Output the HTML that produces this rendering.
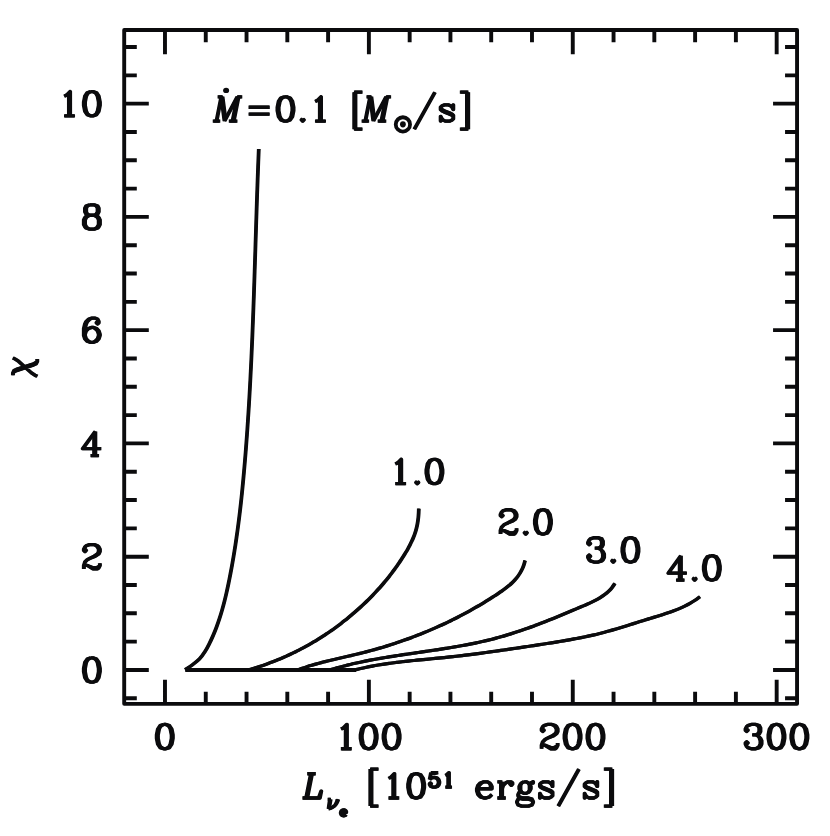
<!DOCTYPE html>
<html><head><meta charset="utf-8"><title>chi vs L</title>
<style>html,body{margin:0;padding:0;overflow:hidden;width:830px;height:836px;background:#fff;font-family:"Liberation Sans",sans-serif;}svg{display:block}</style>
</head><body>
<svg width="830" height="836" viewBox="0 0 830 836">
<rect width="830" height="836" fill="#fff"/>
<rect x="124.2" y="29.95" width="672.86" height="673.92" fill="none" stroke="#0b0b0d" stroke-linejoin="round" stroke-width="3.9"/>
<path d="M164.98 29.95V54.35M164.98 703.87V679.87M205.76 29.95V42.35M205.76 703.87V691.87M246.54 29.95V42.35M246.54 703.87V691.87M287.32 29.95V42.35M287.32 703.87V691.87M328.1 29.95V42.35M328.1 703.87V691.87M368.88 29.95V54.35M368.88 703.87V679.87M409.66 29.95V42.35M409.66 703.87V691.87M450.44 29.95V42.35M450.44 703.87V691.87M491.21 29.95V42.35M491.21 703.87V691.87M531.99 29.95V42.35M531.99 703.87V691.87M572.77 29.95V54.35M572.77 703.87V679.87M613.55 29.95V42.35M613.55 703.87V691.87M654.33 29.95V42.35M654.33 703.87V691.87M695.11 29.95V42.35M695.11 703.87V691.87M735.89 29.95V42.35M735.89 703.87V691.87M776.67 29.95V54.35M776.67 703.87V679.87M124.2 698.26H136.8M797.06 698.26H785.06M124.2 669.94H148.8M797.06 669.94H773.06M124.2 641.62H136.8M797.06 641.62H785.06M124.2 613.31H136.8M797.06 613.31H785.06M124.2 585H136.8M797.06 585H785.06M124.2 556.68H148.8M797.06 556.68H773.06M124.2 528.37H136.8M797.06 528.37H785.06M124.2 500.05H136.8M797.06 500.05H785.06M124.2 471.74H136.8M797.06 471.74H785.06M124.2 443.42H148.8M797.06 443.42H773.06M124.2 415.11H136.8M797.06 415.11H785.06M124.2 386.79H136.8M797.06 386.79H785.06M124.2 358.48H136.8M797.06 358.48H785.06M124.2 330.16H148.8M797.06 330.16H773.06M124.2 301.85H136.8M797.06 301.85H785.06M124.2 273.53H136.8M797.06 273.53H785.06M124.2 245.22H136.8M797.06 245.22H785.06M124.2 216.9H148.8M797.06 216.9H773.06M124.2 188.59H136.8M797.06 188.59H785.06M124.2 160.27H136.8M797.06 160.27H785.06M124.2 131.96H136.8M797.06 131.96H785.06M124.2 103.64H148.8M797.06 103.64H773.06M124.2 75.33H136.8M797.06 75.33H785.06M124.2 47.01H136.8M797.06 47.01H785.06" fill="none" stroke="#0b0b0d" stroke-width="3.9"/>
<path d="M185.2 669.9H356" fill="none" stroke="#0b0b0d" stroke-width="4"/>
<g transform="translate(-0.3 0)"><g id="cv">
<path d="M185.13 669.69C186.37 668.87 190.14 666.53 192.54 664.74C194.94 662.95 197.46 661.13 199.53 658.96C201.6 656.79 203.32 654.27 204.95 651.73C206.58 649.19 207.95 646.44 209.31 643.73C210.67 641.02 211.93 638.26 213.13 635.49C214.33 632.72 215.45 629.91 216.51 627.08C217.57 624.25 218.56 621.4 219.5 618.53C220.44 615.66 221.31 612.76 222.14 609.85C222.97 606.94 223.75 604.02 224.5 601.08C225.25 598.14 225.95 595.19 226.62 592.23C227.29 589.27 227.92 586.31 228.54 583.34C229.16 580.37 229.75 577.4 230.33 574.42C230.91 571.44 231.46 568.46 232 565.48C232.54 562.5 233.06 559.51 233.56 556.53C234.06 553.54 234.54 550.56 235.01 547.57C235.48 544.58 235.93 541.59 236.37 538.59C236.81 535.6 237.22 532.6 237.63 529.6C238.04 526.6 238.43 523.6 238.81 520.6C239.19 517.6 239.56 514.6 239.92 511.6C240.28 508.6 240.62 505.59 240.95 502.58C241.28 499.57 241.6 496.57 241.91 493.56C242.22 490.55 242.52 487.54 242.81 484.53C243.1 481.52 243.38 478.5 243.66 475.49C243.94 472.48 244.2 469.46 244.46 466.45C244.72 463.44 244.97 460.41 245.22 457.4C245.47 454.38 245.71 451.38 245.95 448.36C246.19 445.34 246.41 442.32 246.63 439.3C246.85 436.28 247.07 433.27 247.28 430.25C247.49 427.23 247.7 424.21 247.9 421.19C248.1 418.17 248.29 415.15 248.48 412.13C248.67 409.11 248.86 406.09 249.04 403.07C249.22 400.05 249.39 397.03 249.56 394.01C249.73 390.99 249.9 387.96 250.06 384.94C250.22 381.92 250.38 378.89 250.53 375.87C250.68 372.85 250.83 369.82 250.98 366.8C251.13 363.78 251.27 360.75 251.41 357.73C251.55 354.71 251.68 351.67 251.81 348.65C251.94 345.62 252.07 342.6 252.2 339.58C252.33 336.56 252.45 333.52 252.57 330.5C252.69 327.48 252.8 324.45 252.92 321.43C253.03 318.41 253.15 315.38 253.26 312.35C253.37 309.32 253.48 306.3 253.59 303.27C253.7 300.24 253.81 297.22 253.91 294.19C254.01 291.16 254.11 288.14 254.21 285.11C254.31 282.08 254.41 279.06 254.51 276.03C254.61 273 254.7 269.98 254.8 266.95C254.9 263.92 254.99 260.9 255.09 257.87C255.19 254.84 255.28 251.81 255.38 248.79C255.47 245.76 255.56 242.75 255.66 239.72C255.75 236.69 255.85 233.67 255.95 230.64C256.05 227.61 256.13 224.59 256.23 221.56C256.33 218.53 256.43 215.52 256.53 212.49C256.63 209.47 256.72 206.44 256.82 203.41C256.92 200.38 257.02 197.36 257.12 194.34C257.22 191.32 257.33 188.29 257.44 185.27C257.55 182.25 257.65 179.22 257.76 176.2C257.87 173.18 257.98 170.15 258.09 167.13C258.2 164.11 258.32 161.08 258.44 158.06C258.56 155.04 258.74 150.51 258.8 149" fill="none" stroke="#0b0b0d" stroke-width="3.2" stroke-linejoin="round"/>
<path d="M248.3 669.9C248.97 669.71 250.99 669.14 252.33 668.75C253.67 668.36 255.01 667.95 256.34 667.54C257.67 667.13 259 666.7 260.33 666.27C261.66 665.84 262.98 665.39 264.3 664.93C265.62 664.47 266.94 664 268.25 663.52C269.56 663.04 270.87 662.56 272.17 662.06C273.47 661.56 274.77 661.05 276.07 660.53C277.37 660.01 278.66 659.48 279.95 658.94C281.24 658.4 282.52 657.85 283.8 657.29C285.08 656.73 286.35 656.16 287.62 655.58C288.89 655 290.16 654.41 291.42 653.81C292.68 653.21 293.94 652.6 295.19 651.98C296.44 651.36 297.7 650.73 298.94 650.09C300.18 649.45 301.42 648.81 302.65 648.15C303.88 647.49 305.11 646.82 306.33 646.14C307.55 645.46 308.78 644.78 309.99 644.09C311.2 643.4 312.41 642.69 313.61 641.98C314.81 641.27 316.01 640.54 317.2 639.81C318.39 639.08 319.58 638.34 320.76 637.59C321.94 636.84 323.12 636.08 324.29 635.31C325.46 634.54 326.62 633.77 327.78 632.99C328.94 632.21 330.08 631.41 331.23 630.61C332.38 629.81 333.53 629 334.66 628.18C335.8 627.36 336.92 626.53 338.04 625.7C339.16 624.87 340.28 624.03 341.39 623.18C342.5 622.33 343.6 621.47 344.7 620.6C345.8 619.73 346.89 618.85 347.97 617.97C349.05 617.09 350.13 616.2 351.2 615.3C352.27 614.4 353.33 613.5 354.39 612.58C355.45 611.67 356.5 610.74 357.54 609.81C358.58 608.88 359.61 607.94 360.64 607C361.67 606.06 362.69 605.11 363.71 604.15C364.72 603.19 365.73 602.23 366.73 601.25C367.73 600.27 368.72 599.29 369.71 598.3C370.69 597.31 371.67 596.31 372.64 595.31C373.61 594.31 374.57 593.3 375.52 592.28C376.47 591.26 377.42 590.23 378.36 589.2C379.3 588.17 380.22 587.13 381.14 586.08C382.06 585.03 382.97 583.97 383.87 582.91C384.77 581.85 385.67 580.77 386.55 579.69C387.43 578.61 388.31 577.52 389.17 576.43C390.04 575.34 390.89 574.24 391.74 573.13C392.59 572.02 393.42 570.9 394.25 569.77C395.08 568.64 395.89 567.51 396.7 566.37C397.51 565.23 398.3 564.09 399.09 562.93C399.88 561.77 400.65 560.6 401.41 559.43C402.17 558.26 402.93 557.08 403.67 555.89C404.41 554.7 405.14 553.5 405.86 552.3C406.58 551.09 407.29 549.88 407.97 548.66C408.65 547.44 409.31 546.21 409.95 544.96C410.59 543.72 411.21 542.46 411.79 541.19C412.38 539.92 412.94 538.65 413.46 537.36C413.98 536.07 414.47 534.77 414.92 533.46C415.37 532.15 415.79 530.82 416.16 529.48C416.53 528.14 416.86 526.79 417.14 525.42C417.42 524.05 417.66 522.67 417.86 521.28C418.06 519.89 418.23 518.49 418.36 517.09C418.5 515.69 418.59 514.28 418.67 512.88C418.75 511.48 418.8 509.37 418.83 508.67" fill="none" stroke="#0b0b0d" stroke-width="3.2" stroke-linejoin="round"/>
<path d="M298.1 669.8C298.79 669.55 300.85 668.78 302.23 668.3C303.61 667.82 305.01 667.35 306.4 666.9C307.79 666.45 309.19 666 310.59 665.58C311.99 665.16 313.39 664.75 314.8 664.35C316.21 663.95 317.62 663.56 319.03 663.18C320.44 662.8 321.86 662.43 323.28 662.07C324.7 661.71 326.13 661.36 327.55 661.01C328.97 660.66 330.39 660.33 331.82 659.99C333.25 659.65 334.67 659.32 336.1 658.99C337.53 658.66 338.96 658.34 340.39 658.01C341.82 657.68 343.25 657.36 344.68 657.03C346.11 656.7 347.54 656.39 348.97 656.06C350.4 655.73 351.82 655.4 353.25 655.06C354.68 654.72 356.1 654.38 357.53 654.04C358.95 653.69 360.38 653.35 361.8 652.99C363.22 652.63 364.63 652.27 366.05 651.9C367.47 651.53 368.88 651.15 370.29 650.77C371.7 650.39 373.12 650 374.53 649.6C375.94 649.21 377.35 648.81 378.75 648.4C380.15 647.99 381.55 647.58 382.95 647.16C384.35 646.74 385.75 646.31 387.15 645.87C388.55 645.43 389.94 645 391.33 644.55C392.72 644.1 394.11 643.65 395.5 643.19C396.89 642.73 398.28 642.26 399.66 641.79C401.04 641.32 402.42 640.84 403.8 640.35C405.18 639.86 406.56 639.37 407.93 638.87C409.3 638.37 410.67 637.86 412.04 637.35C413.41 636.84 414.77 636.32 416.14 635.79C417.5 635.26 418.87 634.73 420.23 634.19C421.59 633.65 422.94 633.1 424.29 632.55C425.64 632 427 631.44 428.35 630.87C429.7 630.3 431.05 629.73 432.39 629.15C433.73 628.57 435.07 627.98 436.41 627.38C437.75 626.78 439.09 626.19 440.42 625.58C441.75 624.97 443.07 624.35 444.4 623.73C445.72 623.11 447.05 622.49 448.37 621.85C449.69 621.22 451 620.57 452.32 619.92C453.63 619.27 454.95 618.61 456.26 617.95C457.57 617.29 458.87 616.62 460.17 615.94C461.47 615.26 462.77 614.58 464.06 613.89C465.35 613.2 466.64 612.5 467.93 611.79C469.22 611.08 470.5 610.38 471.78 609.66C473.06 608.94 474.33 608.21 475.6 607.48C476.87 606.75 478.15 606.01 479.41 605.27C480.67 604.52 481.93 603.77 483.18 603.01C484.44 602.25 485.69 601.48 486.94 600.71C488.19 599.94 489.43 599.16 490.67 598.37C491.91 597.58 493.14 596.79 494.37 595.99C495.6 595.19 496.83 594.38 498.05 593.56C499.27 592.74 500.49 591.93 501.69 591.09C502.89 590.25 504.07 589.4 505.23 588.52C506.39 587.64 507.54 586.75 508.65 585.83C509.76 584.91 510.85 583.96 511.89 582.97C512.93 581.98 513.95 580.97 514.91 579.91C515.87 578.85 516.79 577.75 517.65 576.61C518.51 575.47 519.33 574.28 520.08 573.04C520.83 571.8 521.53 570.51 522.16 569.17C522.79 567.83 523.35 566.43 523.84 564.99C524.33 563.55 524.89 561.25 525.1 560.5" fill="none" stroke="#0b0b0d" stroke-width="3.2" stroke-linejoin="round"/>
<path d="M330.6 669.81C331.42 669.57 333.86 668.82 335.5 668.35C337.14 667.88 338.79 667.42 340.43 666.98C342.07 666.54 343.72 666.11 345.37 665.69C347.02 665.27 348.66 664.86 350.32 664.46C351.98 664.06 353.64 663.68 355.3 663.31C356.96 662.93 358.62 662.57 360.28 662.21C361.94 661.86 363.61 661.52 365.28 661.18C366.95 660.84 368.62 660.51 370.29 660.19C371.96 659.87 373.64 659.56 375.32 659.25C377 658.94 378.67 658.65 380.35 658.36C382.03 658.07 383.71 657.78 385.39 657.5C387.07 657.22 388.76 656.94 390.44 656.67C392.12 656.4 393.81 656.14 395.49 655.88C397.18 655.62 398.86 655.36 400.55 655.1C402.24 654.84 403.92 654.59 405.61 654.34C407.3 654.09 408.99 653.85 410.68 653.6C412.37 653.35 414.06 653.11 415.75 652.86C417.44 652.62 419.12 652.37 420.81 652.13C422.5 651.89 424.19 651.65 425.88 651.4C427.57 651.15 429.25 650.9 430.94 650.65C432.63 650.4 434.31 650.15 436 649.9C437.69 649.65 439.38 649.39 441.06 649.13C442.75 648.87 444.43 648.61 446.11 648.34C447.79 648.07 449.47 647.8 451.15 647.52C452.83 647.24 454.51 646.96 456.19 646.67C457.87 646.38 459.55 646.08 461.22 645.78C462.89 645.48 464.56 645.17 466.23 644.85C467.9 644.53 469.57 644.21 471.24 643.88C472.91 643.55 474.57 643.21 476.23 642.86C477.89 642.51 479.54 642.14 481.2 641.77C482.86 641.4 484.52 641.02 486.17 640.63C487.82 640.24 489.47 639.84 491.11 639.43C492.75 639.02 494.4 638.59 496.04 638.15C497.68 637.71 499.32 637.26 500.95 636.8C502.58 636.34 504.21 635.87 505.84 635.38C507.47 634.89 509.1 634.4 510.72 633.89C512.34 633.38 513.96 632.87 515.58 632.34C517.2 631.82 518.81 631.28 520.42 630.74C522.03 630.2 523.64 629.64 525.25 629.08C526.86 628.52 528.46 627.95 530.06 627.37C531.66 626.79 533.26 626.2 534.86 625.61C536.46 625.02 538.05 624.42 539.64 623.81C541.23 623.2 542.82 622.58 544.41 621.96C546 621.34 547.58 620.71 549.17 620.08C550.75 619.45 552.34 618.81 553.92 618.17C555.5 617.53 557.08 616.89 558.66 616.24C560.24 615.59 561.82 614.94 563.4 614.28C564.98 613.62 566.56 612.96 568.14 612.3C569.72 611.64 571.29 610.98 572.87 610.32C574.45 609.66 576.03 608.99 577.61 608.32C579.19 607.65 580.77 606.99 582.35 606.32C583.93 605.65 585.51 604.99 587.08 604.3C588.65 603.61 590.22 602.91 591.75 602.18C593.28 601.45 594.8 600.71 596.28 599.91C597.76 599.11 599.22 598.28 600.63 597.39C602.04 596.5 603.41 595.57 604.73 594.56C606.05 593.55 607.32 592.48 608.52 591.33C609.72 590.18 610.87 588.96 611.93 587.64C612.99 586.32 614.41 584.12 614.91 583.41" fill="none" stroke="#0b0b0d" stroke-width="3.2" stroke-linejoin="round"/>
<path d="M354.7 670C355.68 669.76 358.6 669.01 360.56 668.55C362.52 668.09 364.48 667.66 366.44 667.25C368.4 666.84 370.37 666.45 372.34 666.08C374.31 665.71 376.29 665.36 378.27 665.03C380.25 664.7 382.23 664.38 384.21 664.08C386.19 663.78 388.18 663.5 390.17 663.23C392.16 662.96 394.15 662.71 396.14 662.46C398.13 662.21 400.12 661.98 402.12 661.75C404.12 661.52 406.11 661.3 408.11 661.09C410.11 660.88 412.1 660.68 414.1 660.48C416.1 660.28 418.11 660.08 420.11 659.89C422.11 659.7 424.11 659.51 426.11 659.32C428.11 659.13 430.11 658.94 432.11 658.75C434.11 658.56 436.12 658.37 438.12 658.17C440.12 657.97 442.11 657.77 444.11 657.56C446.11 657.35 448.11 657.15 450.11 656.93C452.11 656.71 454.09 656.49 456.09 656.26C458.08 656.03 460.08 655.8 462.08 655.56C464.07 655.32 466.07 655.08 468.06 654.83C470.05 654.58 472.04 654.34 474.03 654.08C476.02 653.83 478.01 653.56 480 653.3C481.99 653.04 483.98 652.78 485.97 652.51C487.96 652.24 489.95 651.97 491.94 651.69C493.93 651.41 495.91 651.13 497.9 650.85C499.89 650.57 501.87 650.28 503.86 650C505.85 649.72 507.83 649.43 509.82 649.14C511.81 648.85 513.79 648.55 515.78 648.26C517.77 647.97 519.75 647.67 521.74 647.37C523.73 647.07 525.71 646.77 527.7 646.47C529.69 646.17 531.67 645.87 533.66 645.57C535.64 645.27 537.62 644.96 539.61 644.66C541.6 644.36 543.58 644.05 545.57 643.74C547.56 643.43 549.54 643.12 551.53 642.81C553.51 642.49 555.5 642.17 557.48 641.85C559.46 641.53 561.45 641.2 563.43 640.86C565.41 640.52 567.38 640.17 569.36 639.82C571.34 639.47 573.31 639.11 575.28 638.74C577.25 638.37 579.22 637.99 581.19 637.59C583.16 637.2 585.12 636.79 587.08 636.37C589.04 635.95 591 635.53 592.95 635.08C594.9 634.63 596.86 634.17 598.8 633.69C600.74 633.21 602.68 632.72 604.62 632.21C606.56 631.7 608.48 631.16 610.41 630.62C612.34 630.08 614.27 629.52 616.19 628.95C618.11 628.38 620.03 627.81 621.95 627.22C623.87 626.63 625.79 626.04 627.71 625.44C629.63 624.84 631.54 624.23 633.46 623.63C635.38 623.03 637.3 622.42 639.22 621.82C641.14 621.22 643.07 620.62 645 620.03C646.93 619.44 648.87 618.85 650.8 618.26C652.73 617.67 654.67 617.1 656.6 616.51C658.53 615.92 660.46 615.34 662.38 614.73C664.3 614.12 666.22 613.51 668.12 612.86C670.02 612.21 671.91 611.55 673.78 610.84C675.65 610.13 677.5 609.41 679.33 608.63C681.16 607.85 682.97 607.03 684.75 606.16C686.53 605.29 688.29 604.37 690.01 603.39C691.73 602.41 693.42 601.37 695.07 600.26C696.72 599.15 699.1 597.3 699.91 596.71" fill="none" stroke="#0b0b0d" stroke-width="3.2" stroke-linejoin="round"/>
</g>
<use href="#cv" x="0.6"/></g>
<g fill="none" stroke="#0b0b0d" stroke-width="3.3" stroke-linejoin="round" stroke-linecap="butt">
<g transform="translate(-0.35 0)"><g id="tx">
<path d="M163.63 724.47 L160.2 725.63 L157.9 729.09 L156.76 734.87 L156.76 738.33 L157.9 744.11 L160.2 747.57 L163.63 748.73 L165.93 748.73 L169.36 747.57 L171.66 744.11 L172.8 738.33 L172.8 734.87 L171.66 729.09 L169.36 725.63 L165.93 724.47 L163.63 724.47M163.63 724.47 L161.34 725.63 L160.2 726.78 L159.05 729.09 L157.9 734.87 L157.9 738.33 L159.05 744.11 L160.2 746.42 L161.34 747.57 L163.63 748.73M165.93 748.73 L168.22 747.57 L169.36 746.42 L170.51 744.11 L171.66 738.33 L171.66 734.87 L170.51 729.09 L169.36 726.78 L168.22 725.63 L165.93 724.47"/>
<path d="M341.17 729.09 L343.46 727.94 L346.9 724.47 L346.9 748.73M345.76 725.63 L345.76 748.73M341.17 748.73 L351.49 748.73M367.53 724.47 L364.09 725.63 L361.8 729.09 L360.65 734.87 L360.65 738.33 L361.8 744.11 L364.09 747.57 L367.53 748.73 L369.82 748.73 L373.26 747.57 L375.55 744.11 L376.7 738.33 L376.7 734.87 L375.55 729.09 L373.26 725.63 L369.82 724.47 L367.53 724.47M367.53 724.47 L365.24 725.63 L364.09 726.78 L362.95 729.09 L361.8 734.87 L361.8 738.33 L362.95 744.11 L364.09 746.42 L365.24 747.57 L367.53 748.73M369.82 748.73 L372.11 747.57 L373.26 746.42 L374.41 744.11 L375.55 738.33 L375.55 734.87 L374.41 729.09 L373.26 726.78 L372.11 725.63 L369.82 724.47M390.45 724.47 L387.01 725.63 L384.72 729.09 L383.57 734.87 L383.57 738.33 L384.72 744.11 L387.01 747.57 L390.45 748.73 L392.74 748.73 L396.18 747.57 L398.47 744.11 L399.62 738.33 L399.62 734.87 L398.47 729.09 L396.18 725.63 L392.74 724.47 L390.45 724.47M390.45 724.47 L388.16 725.63 L387.01 726.78 L385.87 729.09 L384.72 734.87 L384.72 738.33 L385.87 744.11 L387.01 746.42 L388.16 747.57 L390.45 748.73M392.74 748.73 L395.03 747.57 L396.18 746.42 L397.33 744.11 L398.47 738.33 L398.47 734.87 L397.33 729.09 L396.18 726.78 L395.03 725.63 L392.74 724.47"/>
<path d="M542.78 729.09 L543.92 730.25 L542.78 731.4 L541.63 730.25 L541.63 729.09 L542.78 726.78 L543.92 725.63 L547.36 724.47 L551.95 724.47 L555.38 725.63 L556.53 726.78 L557.68 729.09 L557.68 731.4 L556.53 733.71 L553.09 736.02 L547.36 738.33 L545.07 739.49 L542.78 741.8 L541.63 745.26 L541.63 748.73M551.95 724.47 L554.24 725.63 L555.38 726.78 L556.53 729.09 L556.53 731.4 L555.38 733.71 L551.95 736.02 L547.36 738.33M541.63 746.42 L542.78 745.26 L545.07 745.26 L550.8 747.57 L554.24 747.57 L556.53 746.42 L557.68 745.26M545.07 745.26 L550.8 748.73 L555.38 748.73 L556.53 747.57 L557.68 745.26 L557.68 742.95M571.43 724.47 L567.99 725.63 L565.7 729.09 L564.55 734.87 L564.55 738.33 L565.7 744.11 L567.99 747.57 L571.43 748.73 L573.72 748.73 L577.16 747.57 L579.45 744.11 L580.6 738.33 L580.6 734.87 L579.45 729.09 L577.16 725.63 L573.72 724.47 L571.43 724.47M571.43 724.47 L569.14 725.63 L567.99 726.78 L566.84 729.09 L565.7 734.87 L565.7 738.33 L566.84 744.11 L567.99 746.42 L569.14 747.57 L571.43 748.73M573.72 748.73 L576.01 747.57 L577.16 746.42 L578.3 744.11 L579.45 738.33 L579.45 734.87 L578.3 729.09 L577.16 726.78 L576.01 725.63 L573.72 724.47M594.35 724.47 L590.91 725.63 L588.62 729.09 L587.47 734.87 L587.47 738.33 L588.62 744.11 L590.91 747.57 L594.35 748.73 L596.64 748.73 L600.08 747.57 L602.37 744.11 L603.52 738.33 L603.52 734.87 L602.37 729.09 L600.08 725.63 L596.64 724.47 L594.35 724.47M594.35 724.47 L592.06 725.63 L590.91 726.78 L589.76 729.09 L588.62 734.87 L588.62 738.33 L589.76 744.11 L590.91 746.42 L592.06 747.57 L594.35 748.73M596.64 748.73 L598.93 747.57 L600.08 746.42 L601.22 744.11 L602.37 738.33 L602.37 734.87 L601.22 729.09 L600.08 726.78 L598.93 725.63 L596.64 724.47"/>
<path d="M746.67 729.09 L747.82 730.25 L746.67 731.4 L745.53 730.25 L745.53 729.09 L746.67 726.78 L747.82 725.63 L751.26 724.47 L755.84 724.47 L759.28 725.63 L760.43 727.94 L760.43 731.4 L759.28 733.71 L755.84 734.87 L752.4 734.87M755.84 724.47 L758.13 725.63 L759.28 727.94 L759.28 731.4 L758.13 733.71 L755.84 734.87M755.84 734.87 L758.13 736.02 L760.43 738.33 L761.57 740.64 L761.57 744.11 L760.43 746.42 L759.28 747.57 L755.84 748.73 L751.26 748.73 L747.82 747.57 L746.67 746.42 L745.53 744.11 L745.53 742.95 L746.67 741.8 L747.82 742.95 L746.67 744.11M759.28 737.18 L760.43 740.64 L760.43 744.11 L759.28 746.42 L758.13 747.57 L755.84 748.73M775.32 724.47 L771.89 725.63 L769.59 729.09 L768.45 734.87 L768.45 738.33 L769.59 744.11 L771.89 747.57 L775.32 748.73 L777.62 748.73 L781.05 747.57 L783.35 744.11 L784.49 738.33 L784.49 734.87 L783.35 729.09 L781.05 725.63 L777.62 724.47 L775.32 724.47M775.32 724.47 L773.03 725.63 L771.89 726.78 L770.74 729.09 L769.59 734.87 L769.59 738.33 L770.74 744.11 L771.89 746.42 L773.03 747.57 L775.32 748.73M777.62 748.73 L779.91 747.57 L781.05 746.42 L782.2 744.11 L783.35 738.33 L783.35 734.87 L782.2 729.09 L781.05 726.78 L779.91 725.63 L777.62 724.47M798.24 724.47 L794.81 725.63 L792.51 729.09 L791.37 734.87 L791.37 738.33 L792.51 744.11 L794.81 747.57 L798.24 748.73 L800.54 748.73 L803.97 747.57 L806.27 744.11 L807.41 738.33 L807.41 734.87 L806.27 729.09 L803.97 725.63 L800.54 724.47 L798.24 724.47M798.24 724.47 L795.95 725.63 L794.81 726.78 L793.66 729.09 L792.51 734.87 L792.51 738.33 L793.66 744.11 L794.81 746.42 L795.95 747.57 L798.24 748.73M800.54 748.73 L802.83 747.57 L803.97 746.42 L805.12 744.11 L806.27 738.33 L806.27 734.87 L805.12 729.09 L803.97 726.78 L802.83 725.63 L800.54 724.47"/>
<path d="M90.73 657.91 L87.29 659.07 L85 662.53 L83.86 668.31 L83.86 671.77 L85 677.55 L87.29 681.01 L90.73 682.17 L93.02 682.17 L96.46 681.01 L98.75 677.55 L99.9 671.77 L99.9 668.31 L98.75 662.53 L96.46 659.07 L93.02 657.91 L90.73 657.91M90.73 657.91 L88.44 659.07 L87.29 660.22 L86.15 662.53 L85 668.31 L85 671.77 L86.15 677.55 L87.29 679.86 L88.44 681.01 L90.73 682.17M93.02 682.17 L95.32 681.01 L96.46 679.86 L97.61 677.55 L98.75 671.77 L98.75 668.31 L97.61 662.53 L96.46 660.22 L95.32 659.07 L93.02 657.91"/>
<path d="M85 549.27 L86.15 550.43 L85 551.58 L83.86 550.43 L83.86 549.27 L85 546.96 L86.15 545.81 L89.59 544.65 L94.17 544.65 L97.61 545.81 L98.75 546.96 L99.9 549.27 L99.9 551.58 L98.75 553.89 L95.32 556.2 L89.59 558.51 L87.29 559.67 L85 561.98 L83.86 565.44 L83.86 568.91M94.17 544.65 L96.46 545.81 L97.61 546.96 L98.75 549.27 L98.75 551.58 L97.61 553.89 L94.17 556.2 L89.59 558.51M83.86 566.6 L85 565.44 L87.29 565.44 L93.02 567.75 L96.46 567.75 L98.75 566.6 L99.9 565.44M87.29 565.44 L93.02 568.91 L97.61 568.91 L98.75 567.75 L99.9 565.44 L99.9 563.13"/>
<path d="M94.17 433.7 L94.17 455.65M95.32 431.39 L95.32 455.65M95.32 431.39 L82.71 448.72 L101.05 448.72M90.73 455.65 L98.75 455.65"/>
<path d="M97.61 321.6 L96.46 322.75 L97.61 323.91 L98.75 322.75 L98.75 321.6 L97.61 319.29 L95.32 318.13 L91.88 318.13 L88.44 319.29 L86.15 321.6 L85 323.91 L83.86 328.53 L83.86 335.46 L85 338.92 L87.29 341.23 L90.73 342.39 L93.02 342.39 L96.46 341.23 L98.75 338.92 L99.9 335.46 L99.9 334.3 L98.75 330.84 L96.46 328.53 L93.02 327.37 L91.88 327.37 L88.44 328.53 L86.15 330.84 L85 334.3M91.88 318.13 L89.59 319.29 L87.29 321.6 L86.15 323.91 L85 328.53 L85 335.46 L86.15 338.92 L88.44 341.23 L90.73 342.39M93.02 342.39 L95.32 341.23 L97.61 338.92 L98.75 335.46 L98.75 334.3 L97.61 330.84 L95.32 328.53 L93.02 327.37"/>
<path d="M89.59 204.87 L86.15 206.03 L85 208.34 L85 211.8 L86.15 214.11 L89.59 215.27 L94.17 215.27 L97.61 214.11 L98.75 211.8 L98.75 208.34 L97.61 206.03 L94.17 204.87 L89.59 204.87M89.59 204.87 L87.29 206.03 L86.15 208.34 L86.15 211.8 L87.29 214.11 L89.59 215.27M94.17 215.27 L96.46 214.11 L97.61 211.8 L97.61 208.34 L96.46 206.03 L94.17 204.87M89.59 215.27 L86.15 216.42 L85 217.58 L83.86 219.89 L83.86 224.51 L85 226.82 L86.15 227.97 L89.59 229.13 L94.17 229.13 L97.61 227.97 L98.75 226.82 L99.9 224.51 L99.9 219.89 L98.75 217.58 L97.61 216.42 L94.17 215.27M89.59 215.27 L87.29 216.42 L86.15 217.58 L85 219.89 L85 224.51 L86.15 226.82 L87.29 227.97 L89.59 229.13M94.17 229.13 L96.46 227.97 L97.61 226.82 L98.75 224.51 L98.75 219.89 L97.61 217.58 L96.46 216.42 L94.17 215.27"/>
<path d="M64.37 96.23 L66.67 95.08 L70.1 91.61 L70.1 115.87M68.96 92.77 L68.96 115.87M64.37 115.87 L74.69 115.87M90.73 91.61 L87.29 92.77 L85 96.23 L83.86 102.01 L83.86 105.47 L85 111.25 L87.29 114.71 L90.73 115.87 L93.02 115.87 L96.46 114.71 L98.75 111.25 L99.9 105.47 L99.9 102.01 L98.75 96.23 L96.46 92.77 L93.02 91.61 L90.73 91.61M90.73 91.61 L88.44 92.77 L87.29 93.92 L86.15 96.23 L85 102.01 L85 105.47 L86.15 111.25 L87.29 113.56 L88.44 114.71 L90.73 115.87M93.02 115.87 L95.32 114.71 L96.46 113.56 L97.61 111.25 L98.75 105.47 L98.75 102.01 L97.61 96.23 L96.46 93.92 L95.32 92.77 L93.02 91.61"/>
<path d="M395.48 463.99 L397.77 462.84 L401.21 459.37 L401.21 483.63M400.06 460.53 L400.06 483.63M395.48 483.63 L405.79 483.63M417.25 481.32 L416.1 482.47 L417.25 483.63 L418.4 482.47 L417.25 481.32M433.29 459.37 L429.86 460.53 L427.56 463.99 L426.42 469.77 L426.42 473.23 L427.56 479.01 L429.86 482.47 L433.29 483.63 L435.59 483.63 L439.02 482.47 L441.32 479.01 L442.46 473.23 L442.46 469.77 L441.32 463.99 L439.02 460.53 L435.59 459.37 L433.29 459.37M433.29 459.37 L431 460.53 L429.86 461.68 L428.71 463.99 L427.56 469.77 L427.56 473.23 L428.71 479.01 L429.86 481.32 L431 482.47 L433.29 483.63M435.59 483.63 L437.88 482.47 L439.02 481.32 L440.17 479.01 L441.32 473.23 L441.32 469.77 L440.17 463.99 L439.02 461.68 L437.88 460.53 L435.59 459.37"/>
<path d="M501.68 514.39 L502.83 515.55 L501.68 516.7 L500.54 515.55 L500.54 514.39 L501.68 512.08 L502.83 510.93 L506.27 509.77 L510.85 509.77 L514.29 510.93 L515.44 512.08 L516.58 514.39 L516.58 516.7 L515.44 519.01 L512 521.32 L506.27 523.63 L503.98 524.79 L501.68 527.1 L500.54 530.56 L500.54 534.03M510.85 509.77 L513.14 510.93 L514.29 512.08 L515.44 514.39 L515.44 516.7 L514.29 519.01 L510.85 521.32 L506.27 523.63M500.54 531.72 L501.68 530.56 L503.98 530.56 L509.71 532.87 L513.14 532.87 L515.44 531.72 L516.58 530.56M503.98 530.56 L509.71 534.03 L514.29 534.03 L515.44 532.87 L516.58 530.56 L516.58 528.25M525.75 531.72 L524.6 532.87 L525.75 534.03 L526.9 532.87 L525.75 531.72M541.79 509.77 L538.36 510.93 L536.06 514.39 L534.92 520.17 L534.92 523.63 L536.06 529.41 L538.36 532.87 L541.79 534.03 L544.09 534.03 L547.52 532.87 L549.82 529.41 L550.96 523.63 L550.96 520.17 L549.82 514.39 L547.52 510.93 L544.09 509.77 L541.79 509.77M541.79 509.77 L539.5 510.93 L538.36 512.08 L537.21 514.39 L536.06 520.17 L536.06 523.63 L537.21 529.41 L538.36 531.72 L539.5 532.87 L541.79 534.03M544.09 534.03 L546.38 532.87 L547.52 531.72 L548.67 529.41 L549.82 523.63 L549.82 520.17 L548.67 514.39 L547.52 512.08 L546.38 510.93 L544.09 509.77"/>
<path d="M589.18 542.39 L590.33 543.55 L589.18 544.7 L588.04 543.55 L588.04 542.39 L589.18 540.08 L590.33 538.93 L593.77 537.77 L598.35 537.77 L601.79 538.93 L602.94 541.24 L602.94 544.7 L601.79 547.01 L598.35 548.17 L594.91 548.17M598.35 537.77 L600.64 538.93 L601.79 541.24 L601.79 544.7 L600.64 547.01 L598.35 548.17M598.35 548.17 L600.64 549.32 L602.94 551.63 L604.08 553.94 L604.08 557.41 L602.94 559.72 L601.79 560.87 L598.35 562.03 L593.77 562.03 L590.33 560.87 L589.18 559.72 L588.04 557.41 L588.04 556.25 L589.18 555.1 L590.33 556.25 L589.18 557.41M601.79 550.48 L602.94 553.94 L602.94 557.41 L601.79 559.72 L600.64 560.87 L598.35 562.03M613.25 559.72 L612.1 560.87 L613.25 562.03 L614.4 560.87 L613.25 559.72M629.29 537.77 L625.86 538.93 L623.56 542.39 L622.42 548.17 L622.42 551.63 L623.56 557.41 L625.86 560.87 L629.29 562.03 L631.59 562.03 L635.02 560.87 L637.32 557.41 L638.46 551.63 L638.46 548.17 L637.32 542.39 L635.02 538.93 L631.59 537.77 L629.29 537.77M629.29 537.77 L627 538.93 L625.86 540.08 L624.71 542.39 L623.56 548.17 L623.56 551.63 L624.71 557.41 L625.86 559.72 L627 560.87 L629.29 562.03M631.59 562.03 L633.88 560.87 L635.02 559.72 L636.17 557.41 L637.32 551.63 L637.32 548.17 L636.17 542.39 L635.02 540.08 L633.88 538.93 L631.59 537.77"/>
<path d="M679.75 558.08 L679.75 580.03M680.9 555.77 L680.9 580.03M680.9 555.77 L668.29 573.1 L686.63 573.1M676.31 580.03 L684.34 580.03M694.65 577.72 L693.5 578.87 L694.65 580.03 L695.8 578.87 L694.65 577.72M710.69 555.77 L707.26 556.93 L704.96 560.39 L703.82 566.17 L703.82 569.63 L704.96 575.41 L707.26 578.87 L710.69 580.03 L712.99 580.03 L716.42 578.87 L718.72 575.41 L719.86 569.63 L719.86 566.17 L718.72 560.39 L716.42 556.93 L712.99 555.77 L710.69 555.77M710.69 555.77 L708.4 556.93 L707.26 558.08 L706.11 560.39 L704.96 566.17 L704.96 569.63 L706.11 575.41 L707.26 577.72 L708.4 578.87 L710.69 580.03M712.99 580.03 L715.28 578.87 L716.42 577.72 L717.57 575.41 L718.72 569.63 L718.72 566.17 L717.57 560.39 L716.42 558.08 L715.28 556.93 L712.99 555.77"/>
<path d="M221.33 96.84 L216.52 121.1M222.48 96.84 L225.23 117.63M221.33 96.84 L224.54 121.1M237.37 96.84 L224.54 121.1M237.37 96.84 L232.56 121.1M238.52 96.84 L233.71 121.1M217.89 96.84 L222.48 96.84M237.37 96.84 L241.96 96.84M213.08 121.1 L219.95 121.1M229.12 121.1 L237.14 121.1M248.83 107.24 L269.46 107.24M248.83 114.17 L269.46 114.17M284.36 96.84 L280.92 98 L278.63 101.46 L277.48 107.24 L277.48 110.7 L278.63 116.48 L280.92 119.94 L284.36 121.1 L286.65 121.1 L290.09 119.94 L292.38 116.48 L293.53 110.7 L293.53 107.24 L292.38 101.46 L290.09 98 L286.65 96.84 L284.36 96.84M284.36 96.84 L282.07 98 L280.92 99.16 L279.78 101.46 L278.63 107.24 L278.63 110.7 L279.78 116.48 L280.92 118.79 L282.07 119.94 L284.36 121.1M286.65 121.1 L288.94 119.94 L290.09 118.79 L291.24 116.48 L292.38 110.7 L292.38 107.24 L291.24 101.46 L290.09 99.16 L288.94 98 L286.65 96.84M302.7 118.79 L301.55 119.94 L302.7 121.1 L303.84 119.94 L302.7 118.79M315.3 101.46 L317.59 100.31 L321.03 96.84 L321.03 121.1M319.89 98 L319.89 121.1M315.3 121.1 L325.62 121.1M354.27 92.22 L354.27 129.19M355.41 92.22 L355.41 129.19M354.27 92.22 L362.29 92.22M354.27 129.19 L362.29 129.19M370.16 96.84 L365.34 121.1M371.3 96.84 L374.05 117.63M370.16 96.84 L373.36 121.1M386.2 96.84 L373.36 121.1M386.2 96.84 L381.39 121.1M387.35 96.84 L382.53 121.1M366.72 96.84 L371.3 96.84M386.2 96.84 L390.78 96.84M361.9 121.1 L368.78 121.1M377.95 121.1 L385.97 121.1M434.94 92.22 L414.32 129.19M452.13 107.24 L453.28 104.93 L453.28 109.55 L452.13 107.24 L450.99 106.08 L448.7 104.93 L444.11 104.93 L441.82 106.08 L440.67 107.24 L440.67 109.55 L441.82 110.7 L444.11 111.86 L449.84 114.17 L452.13 115.32 L453.28 116.48M440.67 108.39 L441.82 109.55 L444.11 110.7 L449.84 113.01 L452.13 114.17 L453.28 115.32 L453.28 118.79 L452.13 119.94 L449.84 121.1 L445.26 121.1 L442.97 119.94 L441.82 118.79 L440.67 116.48 L440.67 121.1 L441.82 118.79M467.03 92.22 L467.03 129.19M468.18 92.22 L468.18 129.19M460.16 92.22 L468.18 92.22M460.16 129.19 L468.18 129.19"/>
<path d="M310.93 773.75 L306.12 798M312.08 773.75 L307.26 798M307.49 773.75 L315.51 773.75M302.68 798 L319.87 798 L321.24 791.07 L318.72 798M329.95 799.3 L328.58 809M330.64 799.3 L329.95 803.46 L329.27 806.92 L328.58 809M337.52 799.3 L336.83 802.07 L335.45 804.84M338.2 799.3 L337.52 801.38 L336.83 802.76 L335.45 804.84 L334.08 806.23 L332.02 807.61 L330.64 808.31 L328.58 809M327.89 799.3 L330.64 799.3M341.23 812.47 L346.18 812.47 L346.18 811.64 L345.77 810.81 L345.36 810.39 L344.53 809.98 L343.29 809.98 L342.06 810.39 L341.23 811.23 L340.82 812.47 L340.82 813.31 L341.23 814.55 L342.06 815.38 L343.29 815.8 L344.12 815.8 L345.36 815.38 L346.18 814.55M345.77 812.47 L345.77 811.23 L345.36 810.39M343.29 809.98 L342.47 810.39 L341.64 811.23 L341.23 812.47 L341.23 813.31 L341.64 814.55 L342.47 815.38 L343.29 815.8M370.34 769.12 L370.34 806.09M371.48 769.12 L371.48 806.09M370.34 769.12 L378.36 769.12M370.34 806.09 L378.36 806.09M388.67 778.37 L390.97 777.21 L394.4 773.75 L394.4 798M393.26 774.9 L393.26 798M388.67 798 L398.99 798M415.03 773.75 L411.59 774.9 L409.3 778.37 L408.16 784.14 L408.16 787.61 L409.3 793.38 L411.59 796.85 L415.03 798 L417.32 798 L420.76 796.85 L423.05 793.38 L424.2 787.61 L424.2 784.14 L423.05 778.37 L420.76 774.9 L417.32 773.75 L415.03 773.75M415.03 773.75 L412.74 774.9 L411.59 776.05 L410.45 778.37 L409.3 784.14 L409.3 787.61 L410.45 793.38 L411.59 795.69 L412.74 796.85 L415.03 798M417.32 798 L419.62 796.85 L420.76 795.69 L421.91 793.38 L423.05 787.61 L423.05 784.14 L421.91 778.37 L420.76 776.05 L419.62 774.9 L417.32 773.75M431.08 772.65 L429.7 779.58M429.7 779.58 L431.08 778.19 L433.14 777.5 L435.2 777.5 L437.27 778.19 L438.64 779.58 L439.33 781.66 L439.33 783.04 L438.64 785.12 L437.27 786.51 L435.2 787.2 L433.14 787.2 L431.08 786.51 L430.39 785.81 L429.7 784.43 L429.7 783.74 L430.39 783.04 L431.08 783.74 L430.39 784.43M435.2 777.5 L436.58 778.19 L437.95 779.58 L438.64 781.66 L438.64 783.04 L437.95 785.12 L436.58 786.51 L435.2 787.2M431.08 772.65 L437.95 772.65M431.08 773.34 L434.51 773.34 L437.95 772.65M445.52 775.42 L446.89 774.73 L448.95 772.65 L448.95 787.2M448.27 773.34 L448.27 787.2M445.52 787.2 L451.7 787.2M478.06 788.76 L491.81 788.76 L491.81 786.45 L490.67 784.14 L489.52 782.99 L487.23 781.83 L483.79 781.83 L480.35 782.99 L478.06 785.29 L476.92 788.76 L476.92 791.07 L478.06 794.53 L480.35 796.85 L483.79 798 L486.08 798 L489.52 796.85 L491.81 794.53M490.67 788.76 L490.67 785.29 L489.52 782.99M483.79 781.83 L481.5 782.99 L479.21 785.29 L478.06 788.76 L478.06 791.07 L479.21 794.53 L481.5 796.85 L483.79 798M500.98 781.83 L500.98 798M502.13 781.83 L502.13 798M502.13 788.76 L503.27 785.29 L505.57 782.99 L507.86 781.83 L511.3 781.83 L512.44 782.99 L512.44 784.14 L511.3 785.29 L510.15 784.14 L511.3 782.99M497.54 781.83 L502.13 781.83M497.54 798 L505.57 798M523.9 781.83 L521.61 782.99 L520.46 784.14 L519.32 786.45 L519.32 788.76 L520.46 791.07 L521.61 792.23 L523.9 793.38 L526.19 793.38 L528.49 792.23 L529.63 791.07 L530.78 788.76 L530.78 786.45 L529.63 784.14 L528.49 782.99 L526.19 781.83 L523.9 781.83M521.61 782.99 L520.46 785.29 L520.46 789.91 L521.61 792.23M528.49 792.23 L529.63 789.91 L529.63 785.29 L528.49 782.99M529.63 784.14 L530.78 782.99 L533.07 781.83 L533.07 782.99 L530.78 782.99M520.46 791.07 L519.32 792.23 L518.17 794.53 L518.17 795.69 L519.32 798 L522.76 799.15 L528.49 799.15 L531.92 800.31 L533.07 801.47M518.17 795.69 L519.32 796.85 L522.76 798 L528.49 798 L531.92 799.15 L533.07 801.47 L533.07 802.62 L531.92 804.93 L528.49 806.09 L521.61 806.09 L518.17 804.93 L517.03 802.62 L517.03 801.47 L518.17 799.15 L521.61 798M551.41 784.14 L552.55 781.83 L552.55 786.45 L551.41 784.14 L550.26 782.99 L547.97 781.83 L543.38 781.83 L541.09 782.99 L539.95 784.14 L539.95 786.45 L541.09 787.61 L543.38 788.76 L549.11 791.07 L551.41 792.23 L552.55 793.38M539.95 785.29 L541.09 786.45 L543.38 787.61 L549.11 789.91 L551.41 791.07 L552.55 792.23 L552.55 795.69 L551.41 796.85 L549.11 798 L544.53 798 L542.24 796.85 L541.09 795.69 L539.95 793.38 L539.95 798 L541.09 795.69M578.91 769.12 L558.28 806.09M596.1 784.14 L597.25 781.83 L597.25 786.45 L596.1 784.14 L594.95 782.99 L592.66 781.83 L588.08 781.83 L585.79 782.99 L584.64 784.14 L584.64 786.45 L585.79 787.61 L588.08 788.76 L593.81 791.07 L596.1 792.23 L597.25 793.38M584.64 785.29 L585.79 786.45 L588.08 787.61 L593.81 789.91 L596.1 791.07 L597.25 792.23 L597.25 795.69 L596.1 796.85 L593.81 798 L589.22 798 L586.93 796.85 L585.79 795.69 L584.64 793.38 L584.64 798 L585.79 795.69M611 769.12 L611 806.09M612.14 769.12 L612.14 806.09M604.12 769.12 L612.14 769.12M604.12 806.09 L612.14 806.09"/>
<path d="M12.97 375.17 L12.97 372.88 L14.13 370.58 L16.44 369.44 L33.76 363.71 L36.07 362.56 L37.23 361.42M12.97 372.88 L14.13 371.73 L16.44 370.58 L33.76 364.85 L36.07 363.71 L37.23 361.42 L37.23 359.12M12.97 357.98 L15.28 359.12 L18.75 361.42 L31.45 372.88 L34.92 375.17 L37.23 376.31"/>
</g>
<use href="#tx" x="0.7"/></g>
</g>
<circle cx="402.9" cy="124.4" r="7.15" fill="none" stroke="#0b0b0d" stroke-width="3.8"/>
<ellipse cx="402.9" cy="124.3" rx="2.9" ry="3.1" fill="#0b0b0d"/>
<ellipse cx="226.1" cy="90.4" rx="3" ry="2.6" fill="#0b0b0d"/>
</svg>
</body></html>
